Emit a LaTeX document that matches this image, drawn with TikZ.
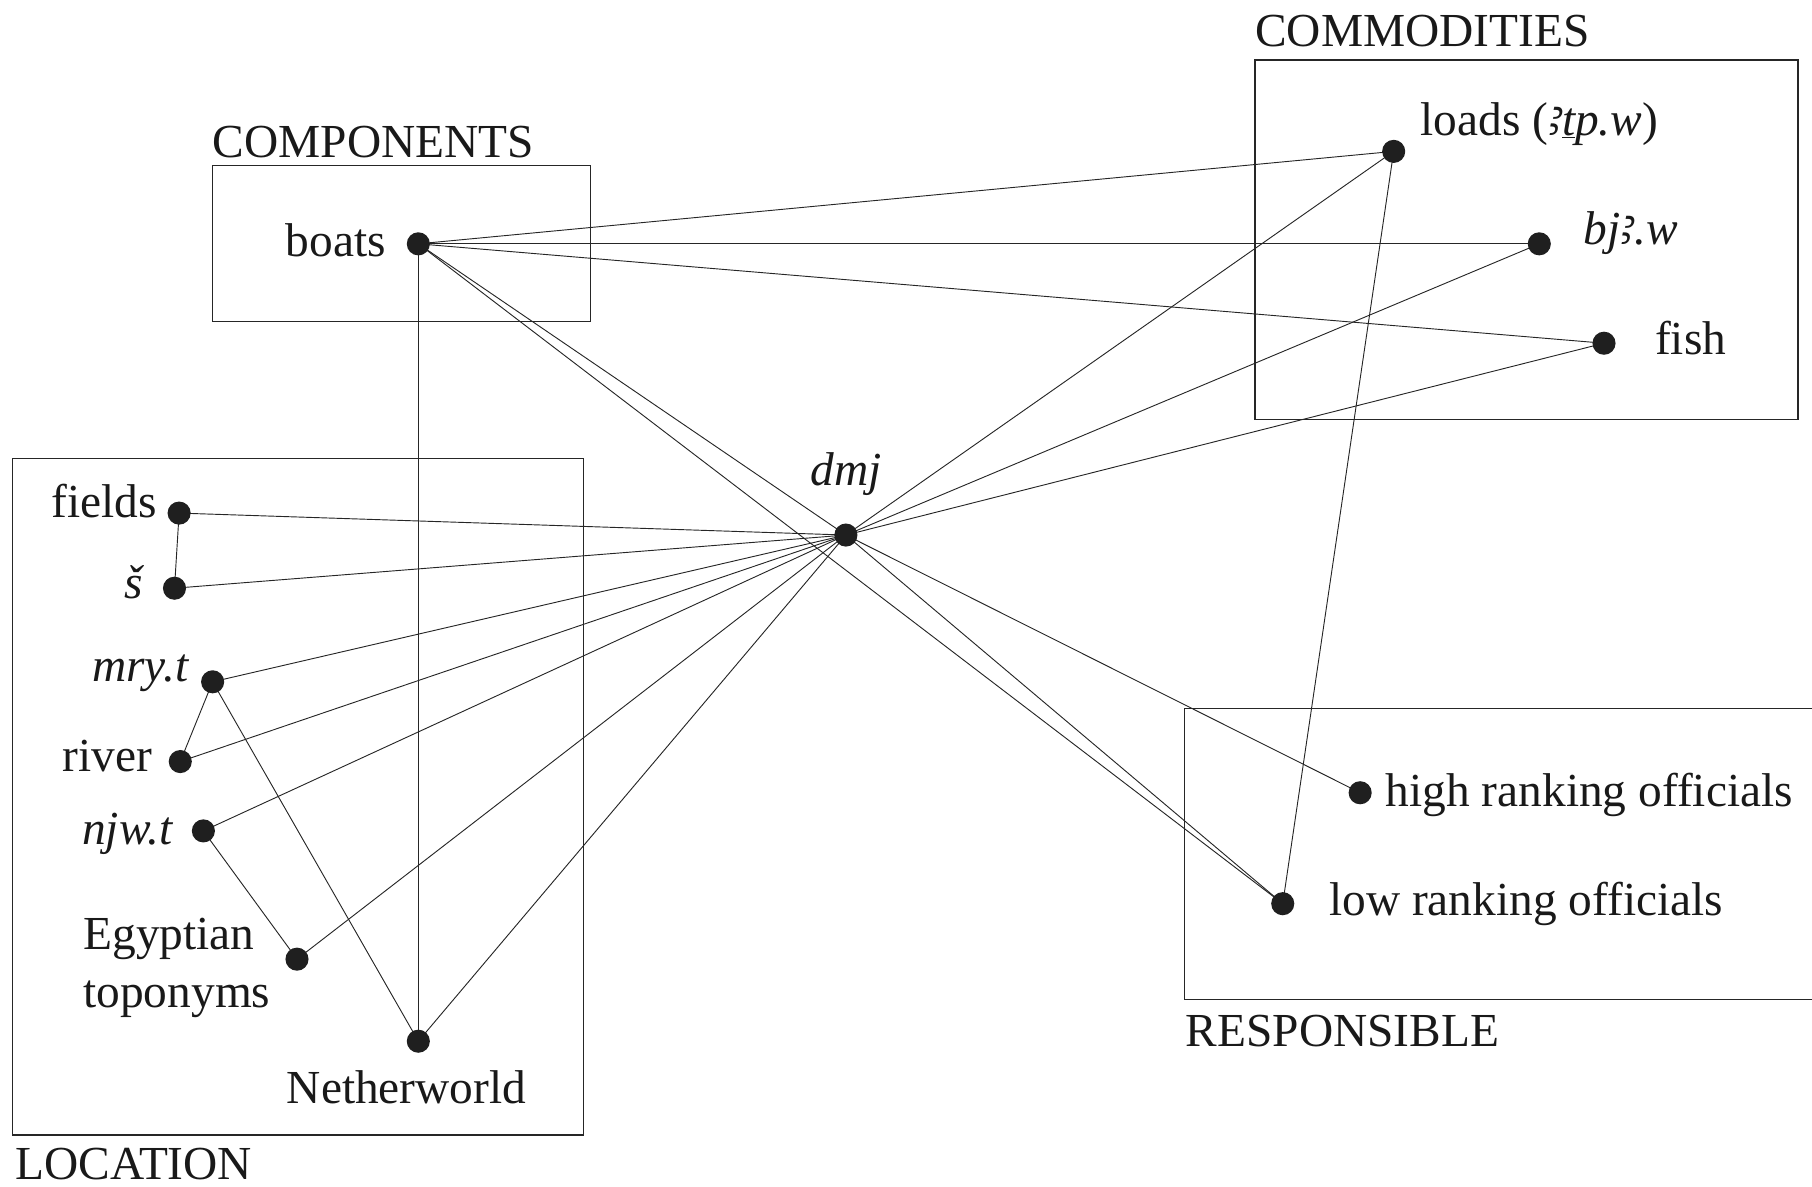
\documentclass[tikz,border=0pt]{standalone}
\usepackage{fontspec}
\setmainfont{Liberation Serif}
\newfontfamily\egyfont{Noto Sans}
\usetikzlibrary{backgrounds}
% Egyptological transliteration helpers
\newcommand{\alef}{{\egyfont\itshape ꜣ}}
\newcommand{\tline}{\underline{t}}
\begin{document}
\begin{tikzpicture}[x=1pt,y=-1pt,
  dot/.style={circle,fill=black!88,inner sep=0pt,minimum size=20pt},
  lbl/.style={inner sep=0pt,font=\fontsize{41}{50}\selectfont,text=black!90},
  grp/.style={draw=black!85,line width=1.2pt},
  link/.style={draw=black!85,line width=0.8pt}]
\useasboundingbox (0,0) rectangle (1568,1027);

% group frames
\draw[grp] (184,143) rectangle (511,278);
\draw[grp] (1086,52) rectangle (1556,363);
\draw[grp] (11,397) rectangle (505,982);
\draw[grp] (1025,613) rectangle (1580,865);

% group titles
\node[lbl,anchor=base west] (tcomp) at (184,136) {COMPONENTS};
\node[lbl,anchor=base west] (tcomm) at (1086,40) {COMMODITIES};
\node[lbl,anchor=base west] (tloc)  at (13,1021) {LOCATION};
\node[lbl,anchor=base west] (tresp) at (1026,906) {RESPONSIBLE};

% points
\node[dot] (boats) at (362,211) {};
\node[dot] (loads) at (1206,131) {};
\node[dot] (bjaw)  at (1332,211) {};
\node[dot] (fish)  at (1388,297) {};
\node[dot] (dmj)   at (732,463) {};
\node[dot] (fields) at (155,444) {};
\node[dot] (sh)    at (151,509) {};
\node[dot] (mryt)  at (184,590) {};
\node[dot] (river) at (156,659) {};
\node[dot] (njwt)  at (176,719) {};
\node[dot] (egy)   at (257,830) {};
\node[dot] (neth)  at (362,901) {};
\node[dot] (high)  at (1177,686) {};
\node[dot] (low)   at (1110,782) {};

% point labels
\node[lbl,anchor=base east] (lboats) at (334,222) {boats};
\node[lbl,anchor=base west] (lloads) at (1229,117) {loads (\textit{\alef\tline p.w})};
\node[lbl,anchor=base west] (lbjaw)  at (1370,212) {\textit{bj\alef.w}};
\node[lbl,anchor=base west] (lfish)  at (1432,307) {fish};
\node[lbl,anchor=base]      (ldmj)   at (732,420) {\textit{dmj}};
\node[lbl,anchor=base east] (lfields) at (136,448) {fields};
\node[lbl,anchor=base east] (lsh)    at (125,518) {\textit{š}};
\node[lbl,anchor=base east] (lmryt)  at (164,590) {\textit{mry.t}};
\node[lbl,anchor=base east] (lriver) at (132,668) {river};
\node[lbl,anchor=base east] (lnjwt)  at (150,731) {\textit{njw.t}};
\node[lbl,anchor=base west] (legy1)  at (72,822) {Egyptian};
\node[lbl,anchor=base west] (legy2)  at (72,872) {toponyms};
\node[lbl,anchor=base west] (lneth)  at (248,955) {Netherworld};
\node[lbl,anchor=base west] (lhigh)  at (1199,698) {high ranking officials};
\node[lbl,anchor=base west] (llow)   at (1150,792) {low ranking officials};

% connections
\begin{scope}[on background layer]
  \foreach \t in {loads,bjaw,fish,neth,dmj,low}
    \draw[link] (boats.center) -- (\t.center);
  \foreach \t in {fields,sh,mryt,river,njwt,egy,neth,loads,bjaw,fish,high,low}
    \draw[link] (dmj.center) -- (\t.center);
  \draw[link] (loads.center) -- (low.center);
  \draw[link] (fields.center) -- (sh.center);
  \draw[link] (mryt.center) -- (river.center);
  \draw[link] (mryt.center) -- (neth.center);
  \draw[link] (njwt.center) -- (egy.center);
\end{scope}
\end{tikzpicture}
\end{document}
